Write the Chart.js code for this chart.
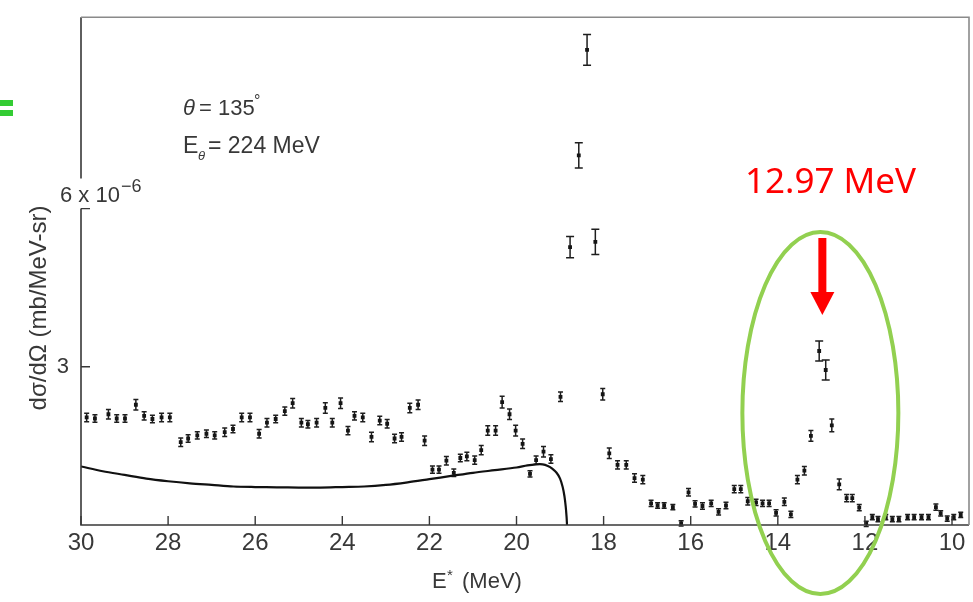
<!DOCTYPE html>
<html>
<head>
<meta charset="utf-8">
<script src="https://cdn.jsdelivr.net/npm/chart.js@4.4.1/dist/chart.umd.min.js"></script>
<style>
  html, body { margin: 0; padding: 0; background: #fff; }
  canvas { display: block; }
</style>
</head>
<body>
<canvas id="chart-spectrum" width="973" height="602"></canvas>
<script>
// excitation energy E* (MeV), cross section (1e-6 mb/MeV-sr) and its error
const energy = [
  29.87, 29.68, 29.37, 29.18, 28.99, 28.74, 28.55, 28.36, 28.15, 27.96,
  27.71, 27.54, 27.33, 27.12, 26.93, 26.70, 26.51, 26.31, 26.12, 25.91,
  25.73, 25.53, 25.32, 25.14, 24.94, 24.79, 24.59, 24.39, 24.23, 24.04,
  23.87, 23.72, 23.53, 23.33, 23.14, 22.97, 22.80, 22.64, 22.45, 22.26,
  22.11, 21.93, 21.78, 21.61, 21.44, 21.29, 21.14, 20.96, 20.81, 20.66,
  20.48, 20.33, 20.16, 20.02, 19.86, 19.69, 19.55, 19.38, 19.21, 18.99,
  18.77, 18.57, 18.38, 18.19, 18.02, 17.87, 17.68, 17.48, 17.29, 17.10,
  16.91, 16.76, 16.61, 16.41, 16.22, 16.05, 15.90, 15.73, 15.53, 15.36,
  15.19, 15.00, 14.85, 14.69, 14.50, 14.35, 14.20, 14.04, 13.85, 13.70,
  13.55, 13.39, 13.24, 13.05, 12.90, 12.76, 12.59, 12.42, 12.29, 12.13,
  11.97, 11.83, 11.70, 11.52, 11.37, 11.22, 11.02, 10.87, 10.70, 10.54,
  10.37, 10.26, 10.11, 9.96, 9.80
];
const sigma = [
  2.04, 2.02, 2.10, 2.02, 2.02, 2.28, 2.07, 2.01, 2.04, 2.04,
  1.57, 1.64, 1.70, 1.73, 1.70, 1.76, 1.82, 2.04, 2.04, 1.73,
  1.94, 2.01, 2.16, 2.31, 1.94, 1.91, 1.94, 2.22, 1.94, 2.31,
  1.79, 2.07, 2.04, 1.67, 1.98, 1.92, 1.64, 1.67, 2.22, 2.28,
  1.60, 1.05, 1.05, 1.22, 0.99, 1.27, 1.30, 1.23, 1.42, 1.79,
  1.79, 2.33, 2.10, 1.79, 1.54, 0.97, 1.23, 1.39, 1.25, 2.43,
  5.27, 7.01, 9.01, 5.37, 2.48, 1.36, 1.14, 1.14, 0.89, 0.86,
  0.41, 0.37, 0.37, 0.34, 0.03, 0.62, 0.40, 0.36, 0.41, 0.25,
  0.37, 0.68, 0.68, 0.45, 0.43, 0.41, 0.41, 0.23, 0.44, 0.20,
  0.86, 1.03, 1.69, 3.30, 2.94, 1.89, 0.77, 0.51, 0.51, 0.33,
  0.02, 0.15, 0.11, 0.15, 0.11, 0.11, 0.15, 0.15, 0.15, 0.15,
  0.34, 0.22, 0.12, 0.15, 0.19
];
const sigmaErr = [
  0.08, 0.07, 0.09, 0.07, 0.07, 0.10, 0.08, 0.07, 0.08, 0.08,
  0.08, 0.07, 0.07, 0.07, 0.07, 0.08, 0.07, 0.08, 0.08, 0.08,
  0.08, 0.07, 0.08, 0.09, 0.08, 0.07, 0.08, 0.10, 0.08, 0.10,
  0.08, 0.08, 0.08, 0.09, 0.08, 0.08, 0.08, 0.08, 0.09, 0.09,
  0.09, 0.07, 0.07, 0.08, 0.07, 0.07, 0.08, 0.08, 0.09, 0.09,
  0.09, 0.11, 0.10, 0.10, 0.09, 0.06, 0.08, 0.10, 0.08, 0.09,
  0.20, 0.24, 0.29, 0.24, 0.11, 0.10, 0.08, 0.08, 0.08, 0.08,
  0.06, 0.05, 0.05, 0.05, 0.05, 0.07, 0.06, 0.06, 0.06, 0.06,
  0.06, 0.07, 0.07, 0.07, 0.06, 0.06, 0.06, 0.06, 0.07, 0.06,
  0.08, 0.08, 0.10, 0.19, 0.19, 0.12, 0.10, 0.07, 0.07, 0.06,
  0.05, 0.05, 0.05, 0.05, 0.05, 0.05, 0.05, 0.05, 0.05, 0.05,
  0.06, 0.05, 0.05, 0.05, 0.05
];

// calculated (solid) curve
const curveE = [30.0, 29.5, 29.0, 28.5, 28.0, 27.5, 27.0, 26.5, 26.0, 25.5,
  25.0, 24.5, 24.0, 23.5, 23.0, 22.5, 22.0, 21.5, 21.0, 20.5,
  20.0, 19.75, 19.55, 19.4, 19.28, 19.18, 19.08, 19.0, 18.94, 18.9, 18.87, 18.85, 18.84];
const curveSigma = [1.11, 1.02, 0.95, 0.88, 0.83, 0.79, 0.76, 0.73, 0.72, 0.715,
  0.71, 0.71, 0.72, 0.73, 0.76, 0.81, 0.87, 0.93, 0.99, 1.04,
  1.09, 1.13, 1.15, 1.15, 1.12, 1.07, 0.99, 0.88, 0.72, 0.55, 0.35, 0.15, 0.0];

const xTicks = [30, 28, 26, 24, 22, 20, 18, 16, 14, 12, 10];
const yTicks = [3, 6];

const scanInk = '#383838';
const scanFont = '"Liberation Sans", Arial, sans-serif';

const decorPlugin = {
    id: 'decor',
    beforeDatasetsDraw(chart) {
        const ctx = chart.ctx;
        const xs = chart.scales.x;
        const ys = chart.scales.y;
        ctx.save();
        ctx.strokeStyle = '#1e1e1e';
        ctx.lineWidth = 1.5;
        energy.forEach((e, i) => {
            const px = xs.getPixelForValue(e);
            const top = ys.getPixelForValue(sigma[i] + sigmaErr[i]);
            const bot = ys.getPixelForValue(sigma[i] - sigmaErr[i]);
            const cap = sigmaErr[i] > 0.15 ? 4 : 2.5;
            ctx.beginPath();
            ctx.moveTo(px, top); ctx.lineTo(px, bot);
            ctx.moveTo(px - cap, top); ctx.lineTo(px + cap, top);
            ctx.moveTo(px - cap, bot); ctx.lineTo(px + cap, bot);
            ctx.stroke();
        });
        ctx.restore();
    },
    afterDraw(chart) {
        const ctx = chart.ctx;
        const area = chart.chartArea;
        const xs = chart.scales.x;
        const ys = chart.scales.y;
        const y6 = ys.getPixelForValue(6);
        ctx.save();

        // frame
        ctx.strokeStyle = scanInk;
        ctx.lineWidth = 1.6;
        ctx.beginPath();
        ctx.moveTo(area.left, area.top); ctx.lineTo(area.left, y6 - 30);
        ctx.moveTo(area.left, y6); ctx.lineTo(area.left, area.bottom);
        ctx.lineTo(area.right, area.bottom);
        ctx.stroke();
        ctx.strokeStyle = '#8a8a8a';
        ctx.beginPath();
        ctx.moveTo(area.left, area.top); ctx.lineTo(area.right, area.top);
        ctx.lineTo(area.right, area.bottom);
        ctx.stroke();

        // inward ticks
        ctx.strokeStyle = scanInk;
        ctx.lineWidth = 1.4;
        ctx.beginPath();
        xTicks.forEach(v => {
            const px = xs.getPixelForValue(v);
            ctx.moveTo(px, area.bottom); ctx.lineTo(px, area.bottom - 9);
        });
        yTicks.forEach(v => {
            const py = ys.getPixelForValue(v);
            ctx.moveTo(area.left, py); ctx.lineTo(area.left + 9, py);
        });
        ctx.stroke();

        // "6 x 10^-6" label
        ctx.fillStyle = scanInk;
        ctx.textBaseline = 'alphabetic';
        ctx.textAlign = 'left';
        ctx.font = '22px ' + scanFont;
        ctx.fillText('6 x 10', 60, y6 - 7);
        const w6 = ctx.measureText('6 x 10').width;
        ctx.font = '18px ' + scanFont;
        ctx.fillText('\u22126', 60 + w6 + 1, y6 - 17);

        // axis titles
        ctx.font = '24px ' + scanFont;
        ctx.textAlign = 'center';
        ctx.save();
        ctx.translate(46, 308);
        ctx.rotate(-Math.PI / 2);
        ctx.fillText('d\u03c3/d\u03a9 (mb/MeV-sr)', 0, 0);
        ctx.restore();

        ctx.textAlign = 'left';
        ctx.font = '22px ' + scanFont;
        ctx.fillText('E', 432, 588);
        ctx.font = '15px ' + scanFont;
        ctx.fillText('*', 447, 580);
        ctx.font = '22px ' + scanFont;
        ctx.fillText('(MeV)', 462, 588);

        // annotations
        ctx.font = 'italic 22px ' + scanFont;
        ctx.fillText('\u03b8', 183, 115);
        ctx.font = '22px ' + scanFont;
        ctx.fillText('= 135', 199, 115);
        ctx.font = '16px ' + scanFont;
        ctx.fillText('\u00b0', 254, 106);
        ctx.font = '23px ' + scanFont;
        ctx.fillText('E', 183, 153);
        ctx.font = 'italic 13px ' + scanFont;
        ctx.fillText('\u03b8', 198, 160);
        ctx.font = '23px ' + scanFont;
        ctx.fillText('= 224 MeV', 208, 153);

        // green marks
        ctx.fillStyle = '#33cc33';
        ctx.fillRect(0, 100, 13, 6);
        ctx.fillRect(0, 110, 13, 6);

        // highlighted state
        const ex = xs.getPixelForValue(13.0);
        ctx.strokeStyle = '#92d050';
        ctx.lineWidth = 4;
        ctx.beginPath();
        ctx.ellipse(ex - 1, 413, 78, 181, 0, 0, Math.PI * 2);
        ctx.stroke();

        ctx.fillStyle = '#ff0000';
        ctx.fillRect(ex - 3, 238, 8, 56);
        ctx.beginPath();
        ctx.moveTo(ex - 11, 292);
        ctx.lineTo(ex + 13, 292);
        ctx.lineTo(ex + 1, 315);
        ctx.closePath();
        ctx.fill();

        ctx.font = '35px "Noto Sans", "DejaVu Sans", sans-serif';
        ctx.fillText('12.97 MeV', 745, 193);
        ctx.restore();
    }
};

const ctx = document.getElementById('chart-spectrum').getContext('2d');

new Chart(ctx, {
    type: 'scatter',
    data: {
        datasets: [
            {
                label: 'data',
                data: energy.map((e, i) => ({ x: e, y: sigma[i] })),
                pointStyle: 'rect',
                pointRadius: 2.7,
                backgroundColor: '#151515',
                borderColor: '#151515',
                borderWidth: 0
            },
            {
                type: 'line',
                label: 'calc',
                data: curveE.map((e, i) => ({ x: e, y: curveSigma[i] })),
                borderColor: '#111',
                borderWidth: 2.2,
                pointRadius: 0,
                tension: 0.3,
                fill: false
            }
        ]
    },
    options: {
        responsive: false,
        animation: false,
        events: [],
        layout: { padding: { top: 5, right: 3, left: 0, bottom: 0 } },
        plugins: {
            legend: { display: false },
            tooltip: { enabled: false }
        },
        scales: {
            x: {
                type: 'linear',
                reverse: true,
                min: 9.61,
                max: 30,
                grid: { display: false },
                border: { display: false },
                afterBuildTicks: function (scale) {
                    scale.ticks = xTicks.map(v => ({ value: v }));
                },
                afterFit: function (scale) {
                    scale.height = 77;
                },
                ticks: {
                    autoSkip: false,
                    maxRotation: 0,
                    padding: -4,
                    color: scanInk,
                    font: { family: scanFont, size: 24 }
                }
            },
            y: {
                type: 'linear',
                min: 0,
                max: 9.63,
                grid: { display: false },
                border: { display: false },
                afterBuildTicks: function (scale) {
                    scale.ticks = yTicks.map(v => ({ value: v }));
                },
                afterFit: function (scale) {
                    scale.width = 81;
                },
                ticks: {
                    autoSkip: false,
                    padding: 4,
                    color: scanInk,
                    font: { family: scanFont, size: 22 },
                    callback: function (value) {
                        return value === 3 ? '3' : '';
                    }
                }
            }
        }
    },
    plugins: [decorPlugin]
});
</script>
</body>
</html>
